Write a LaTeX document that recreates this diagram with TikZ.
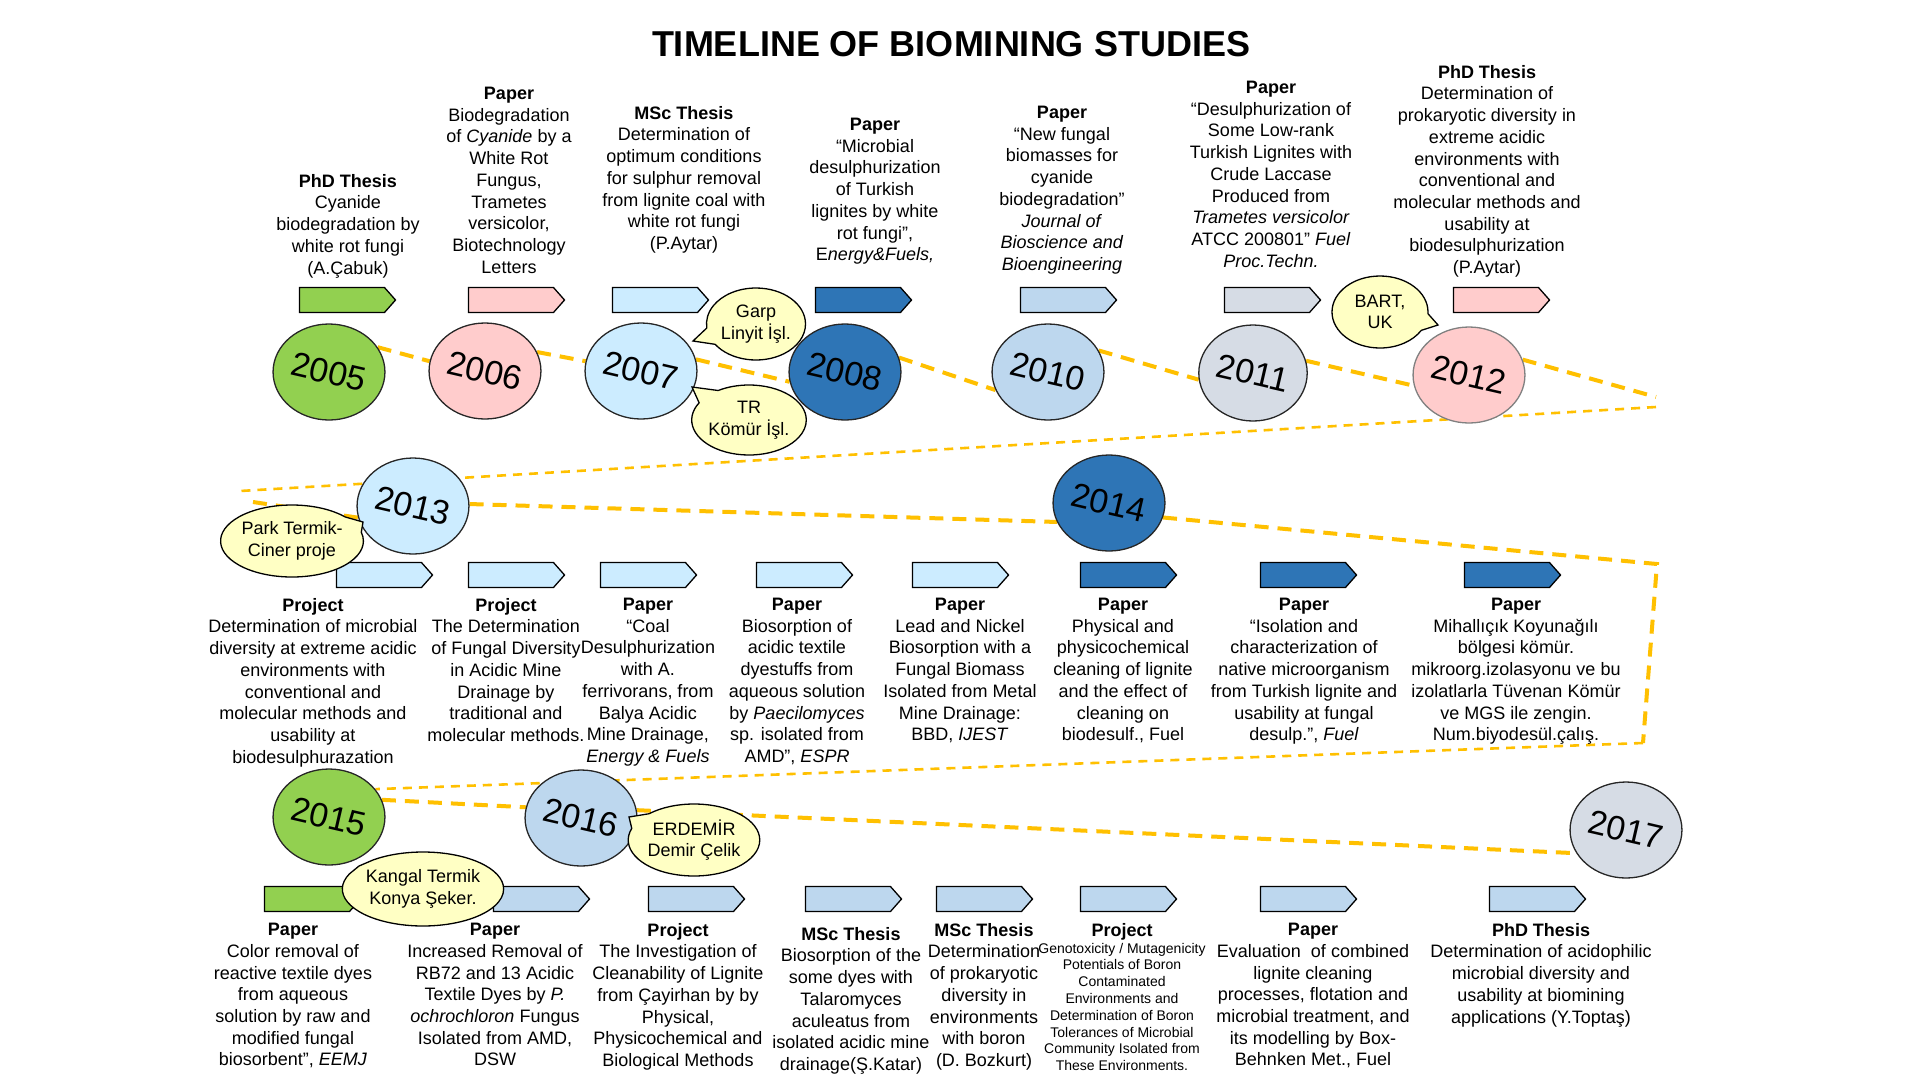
\documentclass[tikz,border=0pt]{standalone}
\usepackage{fontspec}
\setmainfont{Liberation Sans}
\usetikzlibrary{shapes.geometric,shapes.symbols,shapes.callouts}
\definecolor{leafgreen}{HTML}{92D050}
\definecolor{blush}{HTML}{FFCCCC}
\definecolor{iceblue}{HTML}{CCECFF}
\definecolor{royalblue}{HTML}{2E75B6}
\definecolor{skyblue}{HTML}{BDD7EE}
\definecolor{mistgray}{HTML}{D6DCE5}
\definecolor{bubbleyellow}{HTML}{FFFFC4}
\definecolor{trackgold}{HTML}{FFC000}
\newcommand{\infofont}{\fontsize{18}{21.7}\selectfont}
\newcommand{\smallinfofont}{\fontsize{14}{16.8}\selectfont}
\newcommand{\yearlabel}[1]{\rotatebox{-13}{#1}}
\pgfdeclarelayer{paper}
\pgfdeclarelayer{trail}
\pgfsetlayers{paper,trail,main}

\begin{document}
\begin{tikzpicture}[
  x=1pt, y=-1pt,
  font=\infofont,
  year/.style={
    ellipse,
    draw=black!85,
    line width=1.3pt,
    minimum width=108pt,
    minimum height=96pt,
    inner sep=0pt,
    font=\fontsize{34}{34}\selectfont
  },
  tagbox/.style={
    signal, signal to=east, signal pointer angle=97,
    draw=black, line width=1.3pt,
    minimum width=96pt, minimum height=25pt, inner sep=0pt,
    xshift=-4pt
  },
  bubble/.style={
    ellipse callout, callout pointer arc=28,
    draw=black, line width=1.3pt, fill=bubbleyellow,
    align=center, inner sep=0pt
  },
  info/.style={align=center, anchor=north, inner sep=0pt},
  trackline/.style={draw=trackgold, line width=4pt, dash pattern=on 14pt off 9pt},
  thintrack/.style={draw=trackgold, line width=2.6pt, dash pattern=on 9pt off 7pt}
]

  \useasboundingbox (0,0) rectangle (1920,1080);
  \begin{pgfonlayer}{paper}
    \fill[white] (0,0) rectangle (1920,1080);
  \end{pgfonlayer}

  % Title
  \node[font=\fontsize{36}{40}\selectfont\bfseries] (title) at (951,44) {TIMELINE OF BIOMINING STUDIES};

  % --- ROW 1: 2005 - 2012 ---
  \node[year, fill=leafgreen] (y05) at (329,372) {\yearlabel{2005}};
  \node[year, fill=blush]     (y06) at (485,371) {\yearlabel{2006}};
  \node[year, fill=iceblue]   (y07) at (641,371) {\yearlabel{2007}};
  \node[year, fill=royalblue] (y08) at (845,372) {\yearlabel{2008}};
  \node[year, fill=skyblue]   (y10) at (1048,372) {\yearlabel{2010}};
  \node[year, fill=mistgray]  (y11) at (1253,373) {\yearlabel{2011}};
  \node[year, fill=blush, draw=black!50] (y12) at (1469,375) {\yearlabel{2012}};

  \node[tagbox, fill=leafgreen] (t05) at (346,300) {};
  \node[tagbox, fill=blush]     (t06) at (515,300) {};
  \node[tagbox, fill=iceblue]   (t07) at (659,300) {};
  \node[tagbox, fill=royalblue] (t08) at (862,300) {};
  \node[tagbox, fill=skyblue]   (t10) at (1067,300) {};
  \node[tagbox, fill=mistgray]  (t11) at (1271,300) {};
  \node[tagbox, fill=blush]     (t12) at (1500,300) {};

  \node[info] (n05) at (348,174) {\textbf{PhD Thesis}\\Cyanide\\biodegradation by\\white rot fungi\\(A.Çabuk)};
  \node[info] (n06) at (509,87) {\textbf{Paper}\\Biodegradation\\of \textit{Cyanide} by a\\White Rot\\Fungus,\\Trametes\\versicolor,\\Biotechnology\\Letters};
  \node[info] (n07) at (684,106) {\textbf{MSc Thesis}\\Determination of\\optimum conditions\\for sulphur removal\\from lignite coal with\\white rot fungi\\(P.Aytar)};
  \node[info] (n08) at (875,118) {\textbf{Paper}\\“Microbial\\desulphurization\\of Turkish\\lignites by white\\rot fungi”,\\E\textit{nergy\&Fuels,}};
  \node[info] (n10) at (1062,106) {\textbf{Paper}\\“New fungal\\biomasses for\\cyanide\\biodegradation”\\\textit{Journal of}\\\textit{Bioscience and}\\\textit{Bioengineering}};
  \node[info] (n11) at (1271,81) {\textbf{Paper}\\“Desulphurization of\\Some Low-rank\\Turkish Lignites with\\Crude Laccase\\Produced from\\\textit{Trametes versicolor}\\ATCC 200801” \textit{Fuel}\\\textit{Proc.Techn.}};
  \node[info] (n12) at (1487,65) {\textbf{PhD Thesis}\\Determination of\\prokaryotic diversity in\\extreme acidic\\environments with\\conventional and\\molecular methods and\\usability at\\biodesulphurization\\(P.Aytar)};

  % --- ROW 2: 2013 - 2014 ---
  \node[year, fill=iceblue]   (y13) at (413,506) {\yearlabel{2013}};
  \node[year, fill=royalblue] (y14) at (1109,503) {\yearlabel{2014}};

  \node[tagbox, fill=iceblue]   (t13a) at (383,575) {};
  \node[tagbox, fill=iceblue]   (t13b) at (515,575) {};
  \node[tagbox, fill=iceblue]   (t13c) at (647,575) {};
  \node[tagbox, fill=iceblue]   (t13d) at (803,575) {};
  \node[tagbox, fill=iceblue]   (t13e) at (959,575) {};
  \node[tagbox, fill=royalblue] (t14a) at (1127,575) {};
  \node[tagbox, fill=royalblue] (t14b) at (1307,575) {};
  \node[tagbox, fill=royalblue] (t14c) at (1511,575) {};

  \node[info] (n13a) at (313,598) {\textbf{Project}\\Determination of microbial\\diversity at extreme acidic\\environments with\\conventional and\\molecular methods and\\usability at\\biodesulphurazation};
  \node[info] (n13b) at (506,598) {\textbf{Project}\\The Determination\\of Fungal Diversity\\in Acidic Mine\\Drainage by\\traditional and\\molecular methods.};
  \node[info] (n13c) at (648,598) {\textbf{Paper}\\“Coal\\Desulphurization\\with A.\\ferrivorans, from\\Balya Acidic\\Mine Drainage,\\\textit{Energy \& Fuels}};
  \node[info] (n13d) at (797,598) {\textbf{Paper}\\Biosorption of\\acidic textile\\dyestuffs from\\aqueous solution\\by \textit{Paecilomyces}\\sp. isolated from\\AMD”, \textit{ESPR}};
  \node[info] (n13e) at (960,598) {\textbf{Paper}\\Lead and Nickel\\Biosorption with a\\Fungal Biomass\\Isolated from Metal\\Mine Drainage:\\BBD, \textit{IJEST}};
  \node[info] (n14a) at (1123,598) {\textbf{Paper}\\Physical and\\physicochemical\\cleaning of lignite\\and the effect of\\cleaning on\\biodesulf., Fuel};
  \node[info] (n14b) at (1304,598) {\textbf{Paper}\\“Isolation and\\characterization of\\native microorganism\\from Turkish lignite and\\usability at fungal\\desulp.”, \textit{Fuel}};
  \node[info] (n14c) at (1516,598) {\textbf{Paper}\\Mihallıçık Koyunağılı\\bölgesi kömür.\\mikroorg.izolasyonu ve bu\\izolatlarla Tüvenan Kömür\\ve MGS ile zengin.\\Num.biyodesül.çalış.};

  % --- ROW 3: 2015 - 2017 ---
  \node[year, fill=leafgreen] (y15) at (329,817) {\yearlabel{2015}};
  \node[year, fill=skyblue]   (y16) at (581,818) {\yearlabel{2016}};
  \node[year, fill=mistgray]  (y17) at (1626,830) {\yearlabel{2017}};

  \node[tagbox, fill=leafgreen] (t15a) at (311,899) {};
  \node[tagbox, fill=skyblue]   (t15b) at (540,899) {};
  \node[tagbox, fill=skyblue]   (t16a) at (695,899) {};
  \node[tagbox, fill=skyblue]   (t16b) at (852,899) {};
  \node[tagbox, fill=skyblue]   (t16c) at (983,899) {};
  \node[tagbox, fill=skyblue]   (t16d) at (1127,899) {};
  \node[tagbox, fill=skyblue]   (t17a) at (1307,899) {};
  \node[tagbox, fill=skyblue]   (t17b) at (1536,899) {};

  \node[info] (n15a) at (293,923) {\textbf{Paper}\\Color removal of\\reactive textile dyes\\from aqueous\\solution by raw and\\modified fungal\\biosorbent”, \textit{EEMJ}};
  \node[info] (n15b) at (495,923) {\textbf{Paper}\\Increased Removal of\\RB72 and 13 Acidic\\Textile Dyes by \textit{P.}\\\textit{ochrochloron} Fungus\\Isolated from AMD,\\DSW};
  \node[info] (n16a) at (678,923) {\textbf{Project}\\The Investigation of\\Cleanability of Lignite\\from Çayirhan by by\\Physical,\\Physicochemical and\\Biological Methods};
  \node[info] (n16b) at (851,927) {\textbf{MSc Thesis}\\Biosorption of the\\some dyes with\\Talaromyces\\aculeatus from\\isolated acidic mine\\drainage(Ş.Katar)};
  \node[info] (n16c) at (984,923) {\textbf{MSc Thesis}\\Determination\\of prokaryotic\\diversity in\\environments\\with boron\\(D. Bozkurt)};
  \node[info, font=\smallinfofont] (n16d) at (1122,923) {{\infofont\bfseries Project}\\Genotoxicity / Mutagenicity\\Potentials of Boron\\Contaminated\\Environments and\\Determination of Boron\\Tolerances of Microbial\\Community Isolated from\\These Environments.};
  \node[info] (n17a) at (1313,923) {\textbf{Paper}\\Evaluation\ \ of combined\\lignite cleaning\\processes, flotation and\\microbial treatment, and\\its modelling by Box-\\Behnken Met., Fuel};
  \node[info] (n17b) at (1541,923) {\textbf{PhD Thesis}\\Determination of acidophilic\\microbial diversity and\\usability at biomining\\applications (Y.Toptaş)};

  % Speech bubbles
  \node[bubble, minimum width=96pt, minimum height=72pt, callout absolute pointer={(693,341)}] (garp) at (756,324) {Garp\\Linyit İşl.};
  \node[bubble, minimum width=108pt, minimum height=70pt, callout absolute pointer={(692,387)}] (tr) at (749,420) {TR\\Kömür İşl.};
  \node[bubble, minimum width=96pt, minimum height=72pt, callout absolute pointer={(1438,325)}] (bart) at (1380,312) {BART,\\UK};
  \node[bubble, minimum width=110pt, minimum height=72pt, callout absolute pointer={(363,522)}] (park) at (292,541) {Park Termik-\\Ciner proje};
  \node[bubble, minimum width=136pt, minimum height=74pt, callout absolute pointer={(359,866)}] (kangal) at (423,889) {Kangal Termik\\Konya Şeker.};
  \node[bubble, minimum width=120pt, minimum height=72pt, callout absolute pointer={(629,817)}] (erdemir) at (694,840) {ERDEMİR\\Demir Çelik};

  % Dashed timeline track behind the years
  \coordinate (bendA) at (1656,397);
  \coordinate (bendB) at (1656,407);
  \coordinate (bendC) at (240,491);
  \coordinate (bendD) at (253,502);
  \coordinate (bendE) at (1657,564);
  \coordinate (bendF) at (1643,743);
  \begin{pgfonlayer}{trail}
    \draw[trackline] (y05.27) -- (y06.170);
    \draw[trackline] (y06.20) -- (y07.170);
    \draw[trackline] (y07.12) -- (y08.190);
    \draw[trackline] (y08.15) -- (y10.199);
    \draw[trackline] (y10.23) -- (y11.187);
    \draw[trackline] (y11.13) -- (y12.191);
    \draw[trackline] (y12.16) -- (bendA);
    \draw[thintrack] (bendB) -- (bendC);
    \draw[trackline] (bendD) -- (y13.192);
    \draw[trackline] (y13.2) -- (y14.200);
    \draw[trackline] (y14.-15) -- (bendE) -- (bendF);
    \draw[thintrack] (bendF) -- (y15.31);
    \draw[trackline] (y15.18) -- (y16.169);
    \draw[trackline] (y16.8) -- (y17.205);
  \end{pgfonlayer}

\end{tikzpicture}
\end{document}
